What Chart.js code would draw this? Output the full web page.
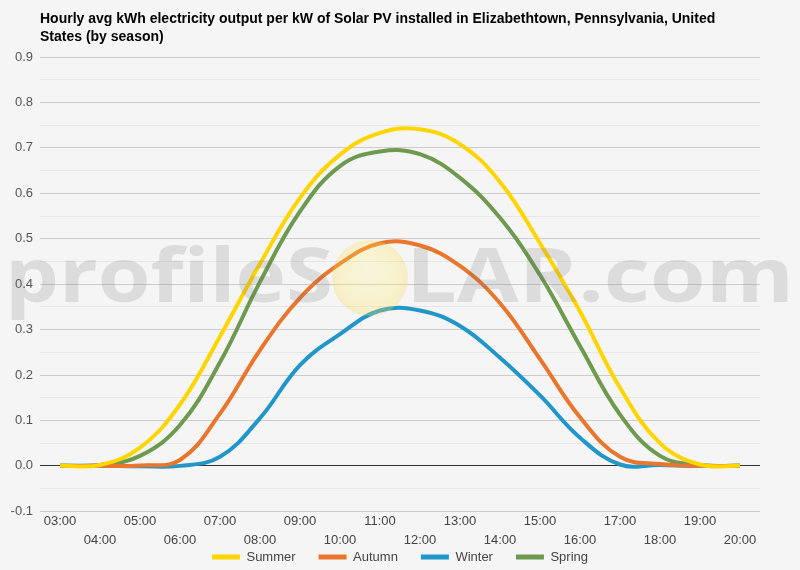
<!DOCTYPE html>
<html>
<head>
<meta charset="utf-8">
<script src="https://cdn.jsdelivr.net/npm/chart.js@4/dist/chart.umd.min.js"></script>
<style>
html,body{margin:0;padding:0;background:#f5f5f5;}
#wrap{width:800px;height:570px;position:relative;}
</style>
</head>
<body>
<div id="wrap"><canvas id="c" width="800" height="570"></canvas></div>
<script>
const hours = ['03:00','04:00','05:00','06:00','07:00','08:00','09:00','10:00','11:00','12:00','13:00','14:00','15:00','16:00','17:00','18:00','19:00','20:00'];
const summer = [0, 0.002, 0.04, 0.135, 0.285, 0.445, 0.59, 0.685, 0.733, 0.741, 0.708, 0.625, 0.49, 0.34, 0.172, 0.05, 0.003, 0];
const autumn = [0, 0, 0.001, 0.013, 0.115, 0.255, 0.37, 0.445, 0.49, 0.485, 0.44, 0.358, 0.235, 0.107, 0.02, 0.004, 0, 0];
const winter = [0, 0, -0.001, 0, 0.02, 0.105, 0.222, 0.29, 0.342, 0.342, 0.308, 0.238, 0.155, 0.062, 0.003, 0.002, 0, 0];
const spring = [0, 0.002, 0.022, 0.09, 0.228, 0.405, 0.56, 0.66, 0.692, 0.686, 0.634, 0.546, 0.42, 0.264, 0.113, 0.022, 0.002, 0];
const seriesNames = ['Summer','Autumn','Winter','Spring'];
const seriesColors = ['#ffd500','#e8762c','#2196c8','#6e9a50'];
const titleLines = ['Hourly avg kWh electricity output per kW of Solar PV installed in Elizabethtown, Pennsylvania, United','States (by season)'];
const watermarkLeft = 'profileS';
const watermarkRight = 'LAR.com';

const bgPlugin = {
  id: 'bg',
  beforeDraw(chart) {
    const ctx = chart.ctx;
    ctx.save();
    ctx.fillStyle = '#f5f5f5';
    ctx.fillRect(0, 0, chart.width, chart.height);
    ctx.restore();
  }
};

// extend the legend box upward so its row sits right under the two-row hour labels
const legendShiftPlugin = {
  id: 'legendShift',
  afterLayout(chart) {
    const lg = chart.legend;
    if (lg) {
      const shift = 23.5;
      lg.top -= shift;
      lg.height = lg.bottom - lg.top;
    }
  }
};

const watermarkPlugin = {
  id: 'watermark',
  afterDatasetsDraw(chart) {
    const ctx = chart.ctx;
    ctx.save();
    ctx.font = 'bold 76px "Open Sans", "DejaVu Sans", sans-serif';
    ctx.textBaseline = 'alphabetic';
    ctx.fillStyle = 'rgba(110,110,110,0.18)';
    const baseY = 302;
    const w1 = ctx.measureText(watermarkLeft).width;
    ctx.save();
    ctx.translate(5, baseY);
    ctx.scale((333 - 5) / w1, 1);
    ctx.fillText(watermarkLeft, 0, 0);
    ctx.restore();
    const w2 = ctx.measureText(watermarkRight).width;
    ctx.save();
    ctx.translate(406, baseY);
    ctx.scale((794 - 406) / w2, 1);
    ctx.fillText(watermarkRight, 0, 0);
    ctx.restore();
    const g = ctx.createRadialGradient(368, 272, 4, 370, 278, 38);
    g.addColorStop(0, 'rgba(255,245,120,0.22)');
    g.addColorStop(0.7, 'rgba(255,235,90,0.26)');
    g.addColorStop(1, 'rgba(250,215,80,0.3)');
    ctx.fillStyle = g;
    ctx.beginPath();
    ctx.arc(370, 278, 38, 0, Math.PI * 2);
    ctx.fill();
    ctx.restore();
  }
};

const dataArrays = [summer, autumn, winter, spring];
const datasets = dataArrays.map((arr, i) => ({
  label: seriesNames[i],
  data: arr,
  borderColor: seriesColors[i],
  backgroundColor: seriesColors[i],
  borderWidth: 4,
  pointRadius: 0,
  tension: 0.4,
  fill: false,
  yAxisID: 'y'
}));

const xLabels = hours.map((h, i) => i % 2 === 0 ? [h] : ['', h]);
const FONT = '"Liberation Sans", Arial, sans-serif';

new Chart(document.getElementById('c'), {
  type: 'line',
  data: { labels: xLabels, datasets },
  plugins: [bgPlugin, watermarkPlugin, legendShiftPlugin],
  options: {
    responsive: false,
    animation: false,
    devicePixelRatio: 1,
    layout: { padding: { left: 0, right: 0, top: 0, bottom: 0 } },
    plugins: {
      title: {
        display: true,
        text: titleLines,
        align: 'start',
        fullSize: false,
        color: '#000',
        font: { family: FONT, size: 14, weight: 'bold', lineHeight: 1.3 },
        padding: { top: 10, bottom: 10.6 }
      },
      legend: {
        position: 'bottom',
        maxHeight: 19,
        labels: {
          boxWidth: 28,
          boxHeight: 5,
          padding: 23,
          color: '#444',
          font: { family: FONT, size: 13 },
          generateLabels(chart) {
            const items = Chart.defaults.plugins.legend.labels.generateLabels(chart);
            items.forEach(it => { it.lineWidth = 0; it.strokeStyle = 'transparent'; });
            return items;
          }
        }
      },
      tooltip: { enabled: false }
    },
    scales: {
      x: {
        offset: true,
        grid: { display: false, drawTicks: false },
        border: { display: false },
        ticks: {
          autoSkip: false,
          maxRotation: 0,
          padding: 1,
          color: '#444',
          font: { family: FONT, size: 13, lineHeight: 1.45 }
        }
      },
      y: {
        min: -0.1,
        max: 0.9,
        afterFit(scale) { scale.width = 40; },
        afterBuildTicks(scale) {
          const t = [];
          for (let k = -2; k <= 18; k++) t.push({ value: k * 0.05 });
          scale.ticks = t;
        },
        grid: {
          drawTicks: false,
          color(ctx) {
            const v = ctx.tick ? ctx.tick.value : 0;
            const k = Math.round(v / 0.05);
            if (k === 0) return '#333';
            return k % 2 === 0 ? '#cccccc' : '#e6e6e6';
          },
          lineWidth: 1
        },
        border: { display: false },
        ticks: {
          autoSkip: false,
          padding: 7,
          color: '#555',
          font: { family: FONT, size: 13 },
          callback(value) {
            const k = Math.round(value / 0.05);
            if (k % 2 !== 0) return '';
            return (k * 0.05).toFixed(1);
          }
        }
      },
      yr: {
        position: 'right',
        display: true,
        min: -0.1,
        max: 0.9,
        afterFit(scale) { scale.width = 40; },
        grid: { display: false, drawTicks: false },
        border: { display: false },
        ticks: { display: false }
      }
    }
  }
});
</script>
</body>
</html>
